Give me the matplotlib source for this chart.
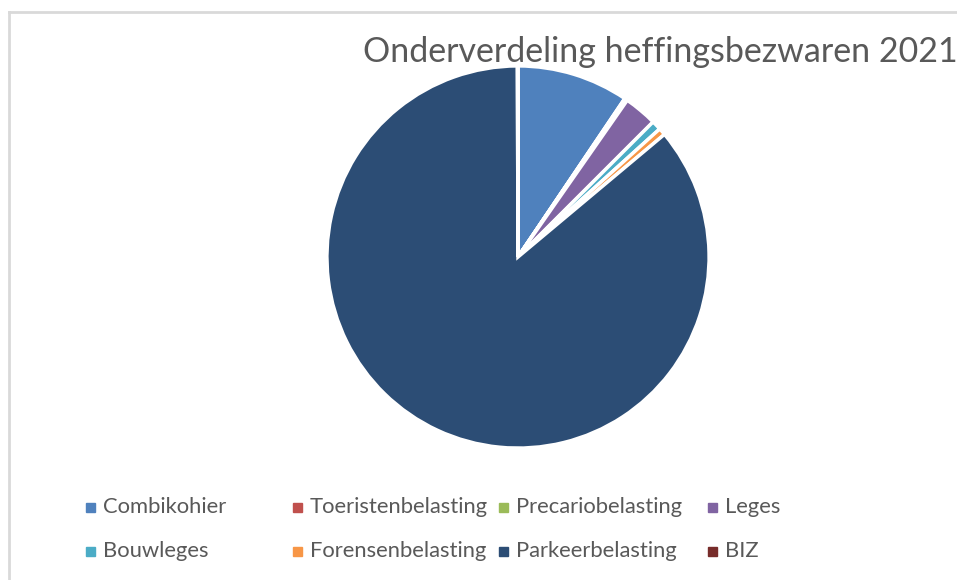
import matplotlib
matplotlib.use("Agg")
import matplotlib.pyplot as plt
from matplotlib.patches import Rectangle
from matplotlib.lines import Line2D

plt.rcParams["font.family"] = ["Lato", "DejaVu Sans"]

title = "Onderverdeling heffingsbezwaren 2021"
labels = ["Combikohier", "Toeristenbelasting", "Precariobelasting", "Leges",
          "Bouwleges", "Forensenbelasting", "Parkeerbelasting", "BIZ"]
values = [9.4, 0.05, 0.2, 2.8, 0.8, 0.6, 85.7, 0.05]
colors = ["#4F81BD", "#C0504D", "#9BBB59", "#8064A2",
          "#4BACC6", "#F79646", "#2C4D75", "#772C2A"]

W, H = 957, 580
fig = plt.figure(figsize=(W / 100, H / 100), dpi=100)

# chart frame (light grey border, top and left visible)
fig.add_artist(Line2D([9 / W, 9 / W], [0, 1 - 12 / H], color="#D9D9D9", lw=2))
fig.add_artist(Line2D([9 / W, 1], [1 - 12 / H, 1 - 12 / H], color="#D9D9D9", lw=2))

cx, cy, r = 518, 257, 193
ax = fig.add_axes([(cx - r) / W, (H - cy - r) / H, 2 * r / W, 2 * r / H])
ax.pie(values, colors=colors, startangle=90, counterclock=False,
       wedgeprops=dict(edgecolor="white", linewidth=2.5))
ax.set_xlim(-1.01, 1.01)
ax.set_ylim(-1.01, 1.01)
ax.set_aspect("equal")

fig.text(363 / W, 1 - 62 / H, title, ha="left", va="baseline",
         fontsize=24.5, color="#595959")

# legend, 4 columns x 2 rows
col_x = [86, 293, 499, 708]
row_y = [507, 551]
for i, (lab, col) in enumerate(zip(labels, colors)):
    x = col_x[i % 4]
    y = row_y[i // 4]
    fig.add_artist(Rectangle((x / W, (H - y - 4.5) / H), 9 / W, 9 / H,
                             color=col, transform=fig.transFigure))
    fig.text((x + 17) / W, (H - y) / H, lab, ha="left", va="center",
             fontsize=15.8, color="#595959")

fig.savefig("out.png", dpi=100)
